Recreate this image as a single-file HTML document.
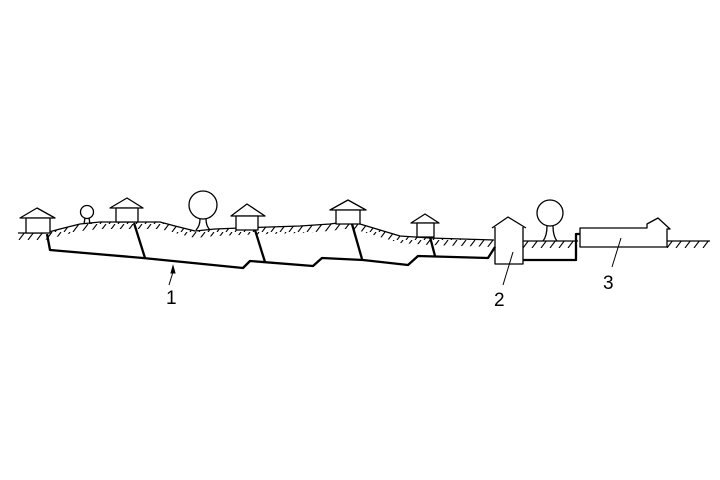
<!DOCTYPE html>
<html><head><style>html,body{margin:0;padding:0;background:#fff}svg{display:block}</style></head>
<body>
<svg width="720" height="480" viewBox="0 0 720 480" xmlns="http://www.w3.org/2000/svg">
<defs>
<pattern id="h" width="9" height="8" patternUnits="userSpaceOnUse">
<line x1="1" y1="8" x2="7" y2="0" stroke="#000" stroke-width="1.1"/>
</pattern>
</defs>
<g fill="url(#h)" stroke="none">
<polygon points="18,233 45,233 60,229 80,224 100,222 160,222 175,226 195,231 215,229 240,228 300,226 330,224 345,222 360,224 380,230 400,236 430,238 494,240 494,247 430,245 400,243 380,237 360,231 345,229 330,231 300,233 240,235 215,236 195,238 175,233 160,229 100,229 80,231 60,236 45,240 18,240"/>
<rect x="523" y="241" width="53" height="7"/>
<rect x="667" y="241" width="43" height="7"/>
</g>
<g fill="none" stroke="#000" stroke-width="1.3" stroke-linejoin="round">
<polyline points="18,233 45,233 60,229 80,224 100,222 160,222 175,226 195,231 215,229 240,228 300,226 330,224 345,222 360,224 380,230 400,236 430,238 494,240"/>
<line x1="523" y1="241" x2="578" y2="241"/>
<line x1="667" y1="241" x2="710" y2="241"/>
<polygon points="20,218 37,208 55,218" fill="#fff"/><rect x="26" y="218" width="24" height="15" fill="#fff"/>
<polygon points="110,208 127,198 143,208" fill="#fff"/><rect x="116" y="208" width="22" height="14" fill="#fff"/>
<polygon points="231,216 247,204 265,216" fill="#fff"/><rect x="236" y="216" width="22" height="14" fill="#fff"/>
<polygon points="330,210 348,200 366,210" fill="#fff"/><rect x="336" y="210" width="24" height="14" fill="#fff"/>
<polygon points="411,223 425,214 439,223" fill="#fff"/><rect x="417" y="223" width="17" height="14" fill="#fff"/>
<circle cx="87" cy="212" r="6.5" fill="#fff"/><path d="M85,218 L84,224 M89,218 L90,224"/>
<circle cx="203" cy="205" r="14" fill="#fff"/><path d="M200,219 Q200,226 196,230 M206,219 Q206,226 210,230"/>
<circle cx="550" cy="213" r="13" fill="#fff"/><path d="M547,226 Q547,236 543,241 M553,226 Q553,236 557,241"/>
<path d="M492,228 L508,217 L526,228 M495,227 V264 H523 V227" fill="#fff"/>
<polygon points="580,228 647,228 647,224 658,218 670,229 667,229 667,247 580,247" fill="#fff"/>
</g>
<g fill="none" stroke="#000" stroke-width="2.3" stroke-linejoin="round">
<polyline points="47,234 50,250 143,258 243,268 250,261 313,266 322,258 363,260 408,265 418,256 488,258 495,247"/>
<line x1="134" y1="223" x2="145" y2="258"/>
<line x1="255" y1="230" x2="265" y2="262"/>
<line x1="352" y1="224" x2="362" y2="259"/>
<line x1="430" y1="237" x2="435" y2="256"/>
<polyline points="523,260 576,260 576,234 580,234"/>
</g>
<g stroke="#000" stroke-width="1">
<line x1="173" y1="272" x2="169" y2="285"/><polygon points="173,266 171,273 175,273" fill="#000"/>
<line x1="513" y1="252" x2="503" y2="285"/>
<line x1="621" y1="238" x2="612" y2="267"/>
</g>
<g font-family="Liberation Sans, sans-serif" font-size="19" fill="#000">
<text x="166" y="304">1</text>
<text x="494" y="306">2</text>
<text x="603" y="289">3</text>
</g>
</svg>
</body></html>
